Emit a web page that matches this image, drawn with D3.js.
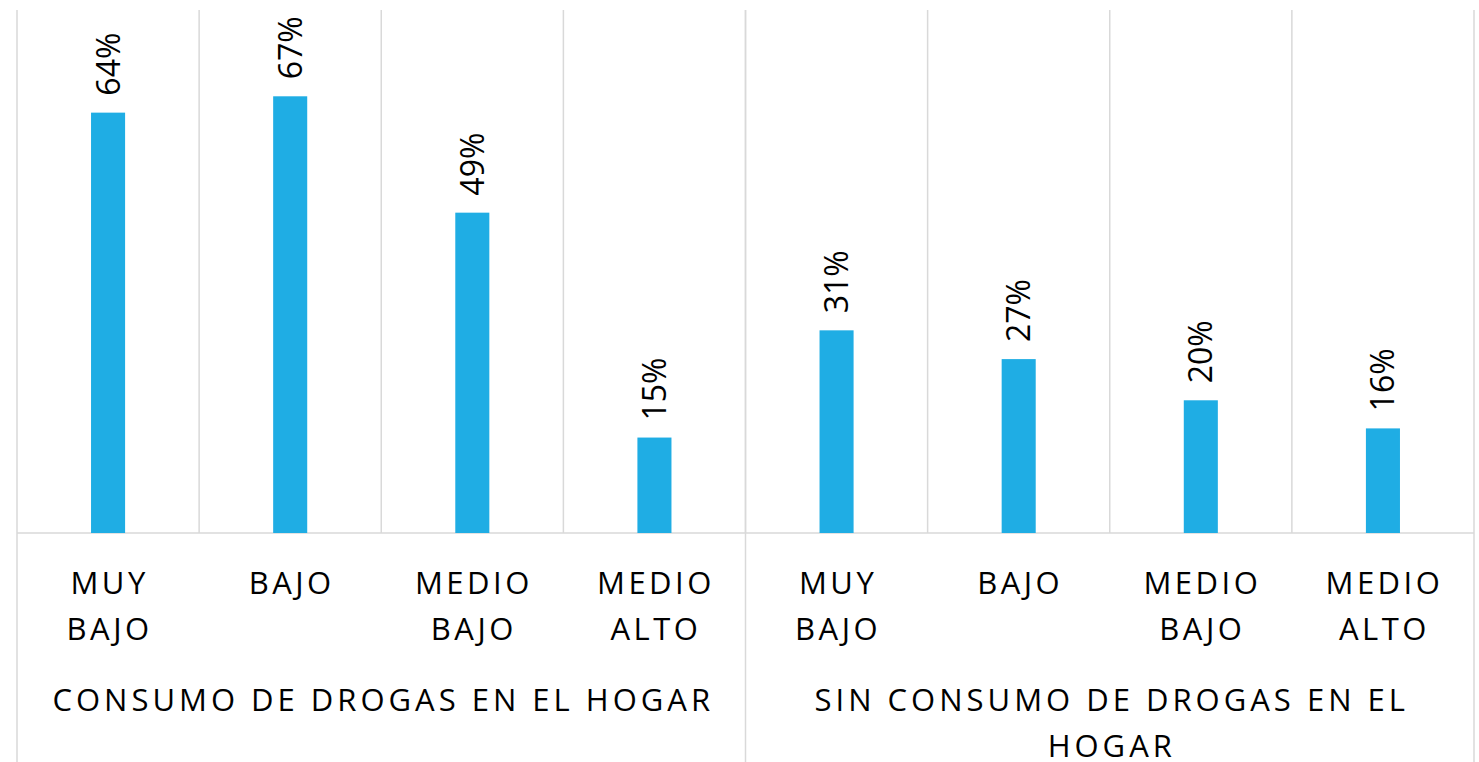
<!DOCTYPE html>
<html>
<head>
<meta charset="utf-8">
<script src="https://cdn.jsdelivr.net/npm/d3@7"></script>
<style>
  body { margin: 0; background: #fff; }
  text { font-family: "Open Sans", sans-serif; fill: #000; }
</style>
</head>
<body>
<div id="chart"></div>
<script>
// data
var groups = ["CONSUMO DE DROGAS EN EL HOGAR", "SIN CONSUMO DE DROGAS EN EL HOGAR"];
var groupLines = [["CONSUMO DE DROGAS EN EL HOGAR"], ["SIN CONSUMO DE DROGAS EN EL", "HOGAR"]];
var levels = [["MUY", "BAJO"], ["BAJO"], ["MEDIO", "BAJO"], ["MEDIO", "ALTO"]];
var values1 = [0.643, 0.668, 0.49, 0.146];
var values2 = [0.31, 0.266, 0.203, 0.16];

var data = [];
[values1, values2].forEach(function(vals, g) {
  vals.forEach(function(v, i) {
    data.push({ key: g + "-" + i, group: g, level: levels[i], value: v });
  });
});

var width = 1479, height = 762;
var plotLeft = 17, plotRight = 1474, plotTop = 10, plotBase = 533;

var svg = d3.select("#chart").append("svg")
    .attr("width", width)
    .attr("height", height);

var x = d3.scaleBand()
    .domain(data.map(function(d) { return d.key; }))
    .range([plotLeft, plotRight])
    .padding(0);

var y = d3.scaleLinear()
    .domain([0, 0.8])
    .range([plotBase, plotTop]);

var barW = x.bandwidth() * 0.187;
var grid = "#d9d9d9";

// vertical gridlines between categories (plot area only)
svg.append("g").selectAll("line")
  .data(data.slice(1))
  .enter().append("line")
    .attr("x1", function(d) { return x(d.key); })
    .attr("x2", function(d) { return x(d.key); })
    .attr("y1", plotTop)
    .attr("y2", plotBase)
    .attr("stroke", grid)
    .attr("stroke-width", 1.5);

// group separators run down through the labels
var seps = [plotLeft, x(data[4].key), plotRight];
svg.append("g").selectAll("line")
  .data(seps)
  .enter().append("line")
    .attr("x1", function(d) { return d; })
    .attr("x2", function(d) { return d; })
    .attr("y1", plotTop)
    .attr("y2", height)
    .attr("stroke", grid)
    .attr("stroke-width", 1.5);

// baseline
svg.append("line")
    .attr("x1", plotLeft).attr("x2", plotRight)
    .attr("y1", plotBase).attr("y2", plotBase)
    .attr("stroke", grid)
    .attr("stroke-width", 1.5);

// bars
svg.append("g").selectAll("rect")
  .data(data)
  .enter().append("rect")
    .attr("x", function(d) { return x(d.key) + x.bandwidth() / 2 - barW / 2; })
    .attr("y", function(d) { return y(d.value); })
    .attr("width", barW)
    .attr("height", function(d) { return plotBase - y(d.value); })
    .attr("fill", "#1fade4");

// value labels, rotated
var fmt = d3.format(".0%");
svg.append("g").selectAll("text")
  .data(data)
  .enter().append("text")
    .attr("transform", function(d) {
      return "translate(" + (x(d.key) + x.bandwidth() / 2) + "," + (y(d.value) - 17) + ") rotate(-90)";
    })
    .attr("dy", "0.36em")
    .style("font-size", "32px")
    .text(function(d) { return fmt(d.value); });

// category labels
var cat = svg.append("g").selectAll("text")
  .data(data)
  .enter().append("text")
    .attr("text-anchor", "middle")
    .style("font-size", "31px")
    .style("letter-spacing", "3.5px");
cat.each(function(d) {
  var t = d3.select(this);
  d.level.forEach(function(line, i) {
    t.append("tspan")
      .attr("x", x(d.key) + x.bandwidth() / 2 + 1.5)
      .attr("y", 594 + i * 46)
      .text(line);
  });
});

// group labels
svg.append("g").selectAll("text")
  .data(groups)
  .enter().append("text")
    .attr("text-anchor", "middle")
    .style("font-size", "31px")
    .style("letter-spacing", "4px")
    .each(function(d, g) {
      var t = d3.select(this);
      var cx = (seps[g] + seps[g + 1]) / 2 + 2;
      groupLines[g].forEach(function(line, i) {
        t.append("tspan")
          .attr("x", cx)
          .attr("y", 711 + i * 46)
          .text(line);
      });
    });
</script>
</body>
</html>
